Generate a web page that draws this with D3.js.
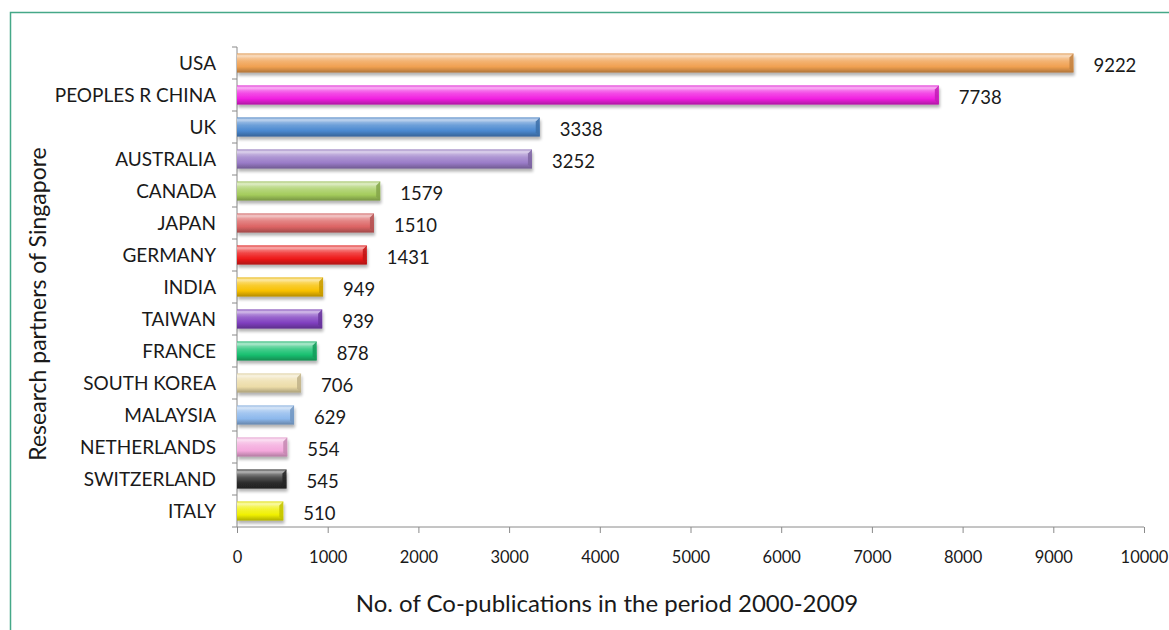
<!DOCTYPE html>
<html>
<head>
<meta charset="utf-8">
<script src="https://cdn.jsdelivr.net/npm/d3@7"></script>
<style>
  html, body { margin: 0; padding: 0; background: #ffffff; }
  svg { display: block; font-family: Lato, "Open Sans", sans-serif; }
</style>
</head>
<body>
<svg id="chart" width="1169" height="630"></svg>
<script>
// Singapore's research partners, co-publications 2000-2009
const countries = ["USA", "PEOPLES R CHINA", "UK", "AUSTRALIA", "CANADA", "JAPAN", "GERMANY",
  "INDIA", "TAIWAN", "FRANCE", "SOUTH KOREA", "MALAYSIA", "NETHERLANDS", "SWITZERLAND", "ITALY"];
const publications = [9222, 7738, 3338, 3252, 1579, 1510, 1431, 949, 939, 878, 706, 629, 554, 545, 510];
const barColors = ["#f0a050", "#f020e0", "#4a88d0", "#9a7cc8", "#a4cc5c", "#dc6464", "#ee1818",
  "#f8c000", "#8040c0", "#18c070", "#ecdca8", "#8cb8ec", "#f4a8dc", "#2c2c2c", "#f0f000"];
const xTicks = [0, 1000, 2000, 3000, 4000, 5000, 6000, 7000, 8000, 9000, 10000];

const svg = d3.select("#chart");

// frame around the chart area
svg.append("rect")
  .attr("x", 10.5).attr("y", 12.5)
  .attr("width", 1200).attr("height", 700)
  .attr("fill", "none").attr("stroke", "#45a888").attr("stroke-width", 1.5);

const plotLeft = 237, plotRight = 1144, plotTop = 47, plotBottom = 527;

const x = d3.scaleLinear().domain([0, 10000]).range([plotLeft, plotRight]);
const y = d3.scaleBand().domain(countries).range([plotTop, plotBottom])
  .paddingInner(0.4).paddingOuter(0.2);

const defs = svg.append("defs");

// soft shadow under each bar
const shadow = defs.append("filter").attr("id", "barShadow")
  .attr("x", "-5%").attr("y", "-30%").attr("width", "115%").attr("height", "190%");
shadow.append("feGaussianBlur").attr("in", "SourceAlpha").attr("stdDeviation", 1.6).attr("result", "b");
shadow.append("feOffset").attr("in", "b").attr("dx", 1).attr("dy", 3).attr("result", "o");
shadow.append("feComponentTransfer").attr("in", "o").attr("result", "s")
  .append("feFuncA").attr("type", "linear").attr("slope", 0.3);
const merge = shadow.append("feMerge");
merge.append("feMergeNode").attr("in", "s");
merge.append("feMergeNode").attr("in", "SourceGraphic");

// one vertical shading gradient per bar colour
barColors.forEach((c, i) => {
  const base = d3.color(c);
  const light = d3.interpolateRgb(c, "#ffffff")(0.55);
  const mid = d3.interpolateRgb(c, "#ffffff")(0.2);
  const dark = base.darker(0.9);
  const g = defs.append("linearGradient").attr("id", "grad" + i)
    .attr("x1", 0).attr("y1", 0).attr("x2", 0).attr("y2", 1);
  g.append("stop").attr("offset", "0%").attr("stop-color", base.darker(0.2));
  g.append("stop").attr("offset", "12%").attr("stop-color", light);
  g.append("stop").attr("offset", "40%").attr("stop-color", mid);
  g.append("stop").attr("offset", "70%").attr("stop-color", c);
  g.append("stop").attr("offset", "100%").attr("stop-color", dark);
});

// axes
const yAxis = svg.append("g").attr("transform", `translate(${plotLeft},0)`)
  .call(d3.axisLeft(y).tickSize(0).tickFormat(""));
yAxis.select(".domain").attr("stroke", "#8a8a8a").attr("d", `M0,${plotTop}V${plotBottom}`);
// tick marks sit on the band boundaries
const bounds = d3.range(countries.length + 1).map(i => plotTop + i * y.step());
yAxis.selectAll(".bound").data(bounds).join("line").attr("class", "bound")
  .attr("x1", -5).attr("x2", 0).attr("y1", d => d).attr("y2", d => d)
  .attr("stroke", "#8a8a8a");

const xAxis = svg.append("g").attr("transform", `translate(0,${plotBottom})`)
  .call(d3.axisBottom(x).tickValues(xTicks).tickSize(6).tickPadding(18).tickFormat(d3.format("d")));
xAxis.select(".domain").attr("stroke", "#8a8a8a").attr("d", `M${plotLeft},0H${plotRight}`);
xAxis.selectAll(".tick line").attr("stroke", "#8a8a8a");
xAxis.selectAll(".tick text").attr("fill", "#1a1a1a").attr("font-size", 16.5).attr("font-family", "Lato, sans-serif");

// category labels
svg.append("g").selectAll("text").data(countries).join("text")
  .attr("x", 216).attr("y", d => y(d) + y.bandwidth() / 2)
  .attr("dy", "0.36em").attr("text-anchor", "end")
  .attr("font-size", 19).attr("fill", "#1a1a1a")
  .text(d => d);

// bars
const bars = svg.append("g").selectAll("g").data(countries).join("g")
  .attr("filter", "url(#barShadow)");
bars.append("rect")
  .attr("x", x(0)).attr("y", d => y(d))
  .attr("width", (d, i) => x(publications[i]) - x(0))
  .attr("height", y.bandwidth())
  .attr("fill", (d, i) => `url(#grad${i})`);

// bevelled end cap on each bar
const cap = 4;
bars.append("path")
  .attr("d", (d, i) => {
    const xe = x(publications[i]), y0 = y(d), h = y.bandwidth();
    return `M${xe - cap},${y0 + cap}L${xe},${y0}L${xe},${y0 + h}L${xe - cap},${y0 + h - cap}Z`;
  })
  .attr("fill", (d, i) => d3.color(barColors[i]).darker(0.6))
  .attr("opacity", 0.85);
bars.append("path")
  .attr("d", (d, i) => {
    const xe = x(publications[i]), y0 = y(d);
    return `M${x(0)},${y0}L${xe},${y0}L${xe - cap},${y0 + cap}L${x(0)},${y0 + cap}Z`;
  })
  .attr("fill", "#ffffff").attr("opacity", 0.18);

// value labels
svg.append("g").selectAll("text").data(countries).join("text")
  .attr("x", (d, i) => x(publications[i]) + 20)
  .attr("y", d => y(d) + y.bandwidth() / 2 + 2)
  .attr("dy", "0.36em")
  .attr("font-size", 18.5).attr("fill", "#1a1a1a")
  .text((d, i) => publications[i]);

// axis titles
svg.append("text")
  .attr("x", 607).attr("y", 612)
  .attr("text-anchor", "middle").attr("font-size", 24).attr("fill", "#1a1a1a")
  .text("No. of Co-publications in the period 2000-2009");
svg.append("text")
  .attr("transform", "translate(46,304) rotate(-90)")
  .attr("text-anchor", "middle").attr("font-size", 23).attr("fill", "#1a1a1a")
  .text("Research partners of Singapore");
</script>
</body>
</html>
